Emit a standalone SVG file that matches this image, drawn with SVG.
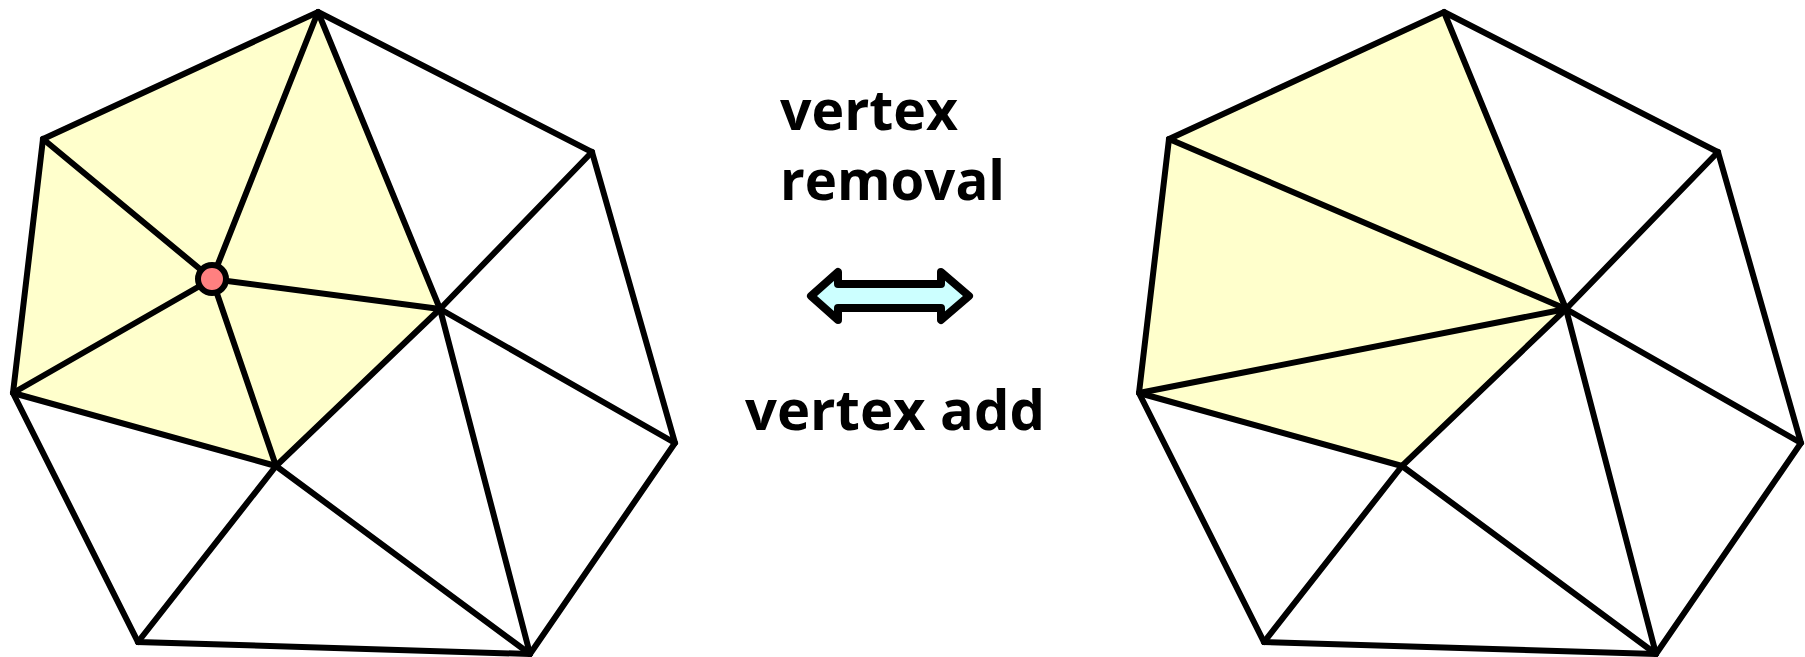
<svg xmlns="http://www.w3.org/2000/svg" width="1805" height="657" viewBox="0 0 1805 657">
<style>
.fill{fill:#ffffcc;stroke:none}
.edge{stroke:#000;stroke-width:6;stroke-linecap:round;fill:none}
.hull{stroke:#000;stroke-width:6;stroke-linejoin:miter;fill:none}
.lbl{font-family:"Open Sans","Liberation Sans",sans-serif;font-weight:bold;font-size:56px;fill:#000}
</style>
<rect width="1805" height="657" fill="#fff"/>
<g id="mesh-before">
  <polygon class="fill" points="318,12 440,309 276,466 13,393 43,139"/>
  <g id="edges-before">
    <line class="edge" x1="318" y1="12" x2="440" y2="309"/>
    <line class="edge" x1="592" y1="152" x2="440" y2="309"/>
    <line class="edge" x1="440" y1="309" x2="675" y2="443"/>
    <line class="edge" x1="440" y1="309" x2="530" y2="654"/>
    <line class="edge" x1="276" y1="466" x2="530" y2="654"/>
    <line class="edge" x1="276" y1="466" x2="138" y2="642"/>
    <line class="edge" x1="276" y1="466" x2="440" y2="309"/>
    <line class="edge" x1="13" y1="393" x2="276" y2="466"/>
    <line class="edge" x1="212" y1="279" x2="318" y2="12"/>
    <line class="edge" x1="212" y1="279" x2="43" y2="139"/>
    <line class="edge" x1="212" y1="279" x2="13" y2="393"/>
    <line class="edge" x1="212" y1="279" x2="276" y2="466"/>
    <line class="edge" x1="212" y1="279" x2="440" y2="309"/>
  </g>
  <polygon class="hull" points="318,12 592,152 675,443 530,654 138,642 13,393 43,139"/>
  <circle id="removed-vertex" cx="212" cy="279" r="14" fill="#ff8080" stroke="#000" stroke-width="6"/>
</g>
<g id="mesh-after" transform="translate(1126,0)">
  <polygon class="fill" points="318,12 440,309 276,466 13,393 43,139"/>
  <g id="edges-after">
    <line class="edge" x1="318" y1="12" x2="440" y2="309"/>
    <line class="edge" x1="592" y1="152" x2="440" y2="309"/>
    <line class="edge" x1="440" y1="309" x2="675" y2="443"/>
    <line class="edge" x1="440" y1="309" x2="530" y2="654"/>
    <line class="edge" x1="276" y1="466" x2="530" y2="654"/>
    <line class="edge" x1="276" y1="466" x2="138" y2="642"/>
    <line class="edge" x1="276" y1="466" x2="440" y2="309"/>
    <line class="edge" x1="13" y1="393" x2="276" y2="466"/>
    <line class="edge" x1="43" y1="139" x2="440" y2="309"/>
    <line class="edge" x1="13" y1="393" x2="440" y2="309"/>
  </g>
  <polygon class="hull" points="318,12 592,152 675,443 530,654 138,642 13,393 43,139"/>
</g>
<g id="arrow">
  <path d="M811,296 L838,272 L838,284 L941,284 L941,272 L969,296 L941,320 L941,308 L838,308 L838,320 Z" fill="#ccffff" stroke="#000" stroke-width="8" stroke-linejoin="round"/>
</g>
<g id="labels">
  <text class="lbl" x="780" y="130" textLength="178" lengthAdjust="spacingAndGlyphs">vertex</text>
  <text class="lbl" x="780" y="200" textLength="225" lengthAdjust="spacingAndGlyphs">removal</text>
  <text class="lbl" x="745" y="430" textLength="300" lengthAdjust="spacingAndGlyphs">vertex add</text>
</g>
</svg>
